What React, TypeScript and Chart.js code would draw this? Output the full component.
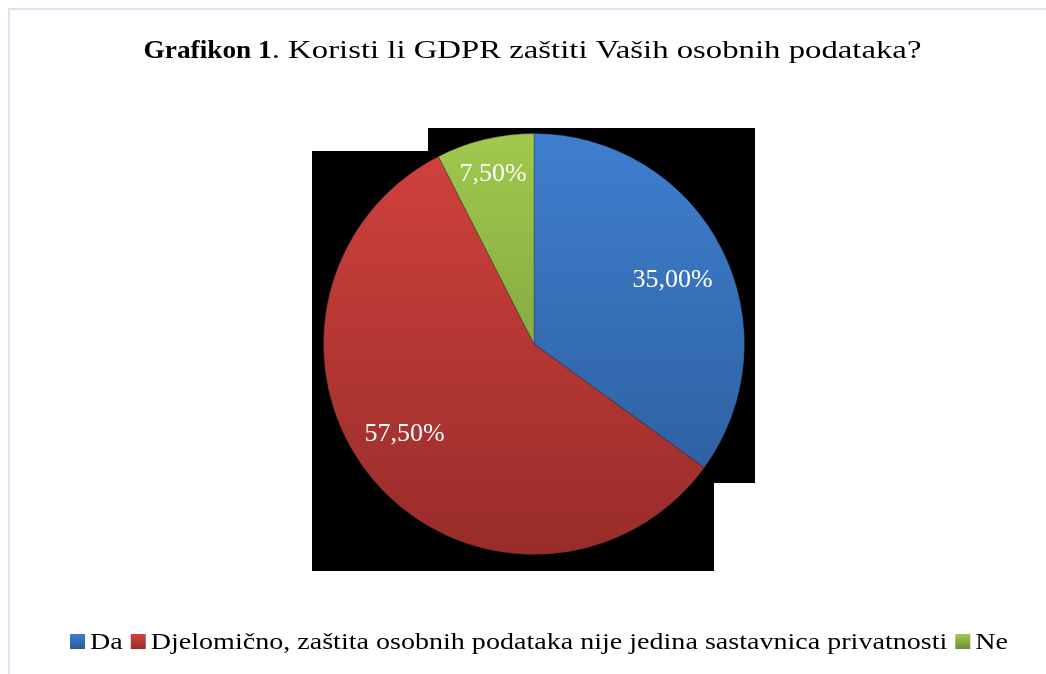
import { useEffect, useRef } from 'react';
import { Chart, registerables } from 'chart.js';

Chart.register(...registerables);

const FONT = '"Liberation Serif", "Times New Roman", serif';

const titleBold = 'Grafikon 1';
const titleRest = '. Koristi li GDPR zaštiti Vaših osobnih podataka?';
const labels = ['Da', 'Djelomično, zaštita osobnih podataka nije jedina sastavnica privatnosti', 'Ne'];
const values = [35, 57.5, 7.5];
const topColors = ['#3f7fcf', '#d2423e', '#a0c94d'];
const bottomColors = ['#2a5a97', '#982c29', '#6f8e35'];
const labelRadius = [0.727, 0.746, 0.835];
const labelAngleShift = [2, 6, 0];

const fmt = (v: number) => v.toFixed(2).replace('.', ',') + '%';

function stretchedText(ctx: any, text: string, x: number, y: number, sx: number) {
  ctx.save();
  ctx.translate(x, y);
  ctx.scale(sx, 1);
  ctx.fillText(text, 0, 0);
  ctx.restore();
}

const backdropPlugin = {
  id: 'backdrop',
  beforeDraw(chart: any) {
    const { ctx, chartArea } = chart;
    ctx.save();
    ctx.fillStyle = '#ffffff';
    ctx.fillRect(0, 0, chart.width, chart.height);
    ctx.fillStyle = '#d6e4f4';
    ctx.fillRect(8, 8, 2, chart.height - 8);
    ctx.fillRect(8, 8, chart.width - 8, 2);
    const cx = (chartArea.left + chartArea.right) / 2;
    const cy = (chartArea.top + chartArea.bottom) / 2;
    ctx.fillStyle = '#000000';
    ctx.fillRect(cx - 106, cy - 216, 327, 355);
    ctx.fillRect(cx - 222, cy - 193, 402, 420);
    ctx.restore();
  },
};

const titlePlugin = {
  id: 'mixedTitle',
  afterDraw(chart: any) {
    const { ctx } = chart;
    ctx.save();
    ctx.fillStyle = '#000000';
    ctx.textBaseline = 'alphabetic';
    ctx.textAlign = 'left';
    const boldFont = `bold 26px ${FONT}`;
    const normFont = `26px ${FONT}`;
    const sxBold = 1.05;
    const sxNorm = 1.26;
    ctx.font = boldFont;
    const w1 = ctx.measureText(titleBold).width * sxBold;
    ctx.font = normFont;
    const w2 = ctx.measureText(titleRest).width * sxNorm;
    const x0 = 532.5 - (w1 + w2) / 2;
    const y = 58;
    ctx.font = boldFont;
    stretchedText(ctx, titleBold, x0, y, sxBold);
    ctx.font = normFont;
    stretchedText(ctx, titleRest, x0 + w1, y, sxNorm);
    ctx.restore();
  },
};

const labelPlugin = {
  id: 'sliceLabels',
  afterDatasetsDraw(chart: any) {
    const { ctx } = chart;
    const meta = chart.getDatasetMeta(0);
    ctx.save();
    ctx.fillStyle = '#ffffff';
    ctx.font = `26px ${FONT}`;
    ctx.textAlign = 'center';
    ctx.textBaseline = 'middle';
    meta.data.forEach((arc: any, i: number) => {
      const mid = (arc.startAngle + arc.endAngle) / 2 + (labelAngleShift[i] * Math.PI) / 180;
      const r = arc.outerRadius * labelRadius[i];
      ctx.fillText(fmt(values[i]), arc.x + Math.cos(mid) * r, arc.y + Math.sin(mid) * r + 1);
    });
    ctx.restore();
  },
};

const legendPlugin = {
  id: 'customLegend',
  afterDraw(chart: any) {
    const { ctx } = chart;
    ctx.save();
    ctx.font = `24px ${FONT}`;
    ctx.textBaseline = 'alphabetic';
    ctx.textAlign = 'left';
    const box = 15;
    const gapBoxText = 5;
    const gapItems = 8;
    const legendLeft = 70;
    const legendWidth = 938;
    const raw = labels.map((l) => ctx.measureText(l).width);
    const fixed = labels.length * (box + gapBoxText) + gapItems * (labels.length - 1);
    const sx = (legendWidth - fixed) / raw.reduce((s, w) => s + w, 0);
    let x = legendLeft;
    const baseline = 649;
    labels.forEach((l, i) => {
      const g = ctx.createLinearGradient(0, baseline - box, 0, baseline);
      g.addColorStop(0, topColors[i]);
      g.addColorStop(1, bottomColors[i]);
      ctx.fillStyle = g;
      ctx.fillRect(x, baseline - box, box, box);
      x += box + gapBoxText;
      ctx.fillStyle = '#000000';
      stretchedText(ctx, l, x, baseline, sx);
      x += raw[i] * sx + gapItems;
    });
    ctx.restore();
  },
};

export default function App() {
  const ref = useRef<HTMLCanvasElement | null>(null);

  useEffect(() => {
    if (!ref.current) return;
    const chart = new Chart(ref.current, {
      type: 'pie',
      data: {
        labels,
        datasets: [
          {
            data: values,
            backgroundColor: (context: any) => {
              const c = context.chart;
              const area = c.chartArea;
              const i = context.dataIndex;
              if (!area) return topColors[i];
              const g = c.ctx.createLinearGradient(0, area.top, 0, area.bottom);
              g.addColorStop(0, topColors[i]);
              g.addColorStop(1, bottomColors[i]);
              return g;
            },
            borderColor: 'rgba(40,40,60,0.35)',
            borderWidth: 1,
          },
        ],
      },
      options: {
        responsive: false,
        animation: false,
        layout: { padding: { top: 133, bottom: 119, left: 323, right: 301 } },
        plugins: {
          legend: { display: false },
          title: { display: false },
          tooltip: { enabled: false },
        },
      },
      plugins: [backdropPlugin, titlePlugin, labelPlugin, legendPlugin],
    });
    return () => chart.destroy();
  }, []);

  return (
    <div style={{ position: 'fixed', left: 0, top: 0, width: 1046, height: 674, background: '#fff' }}>
      <canvas ref={ref} width={1046} height={674} style={{ display: 'block', width: 1046, height: 674 }} />
    </div>
  );
}
